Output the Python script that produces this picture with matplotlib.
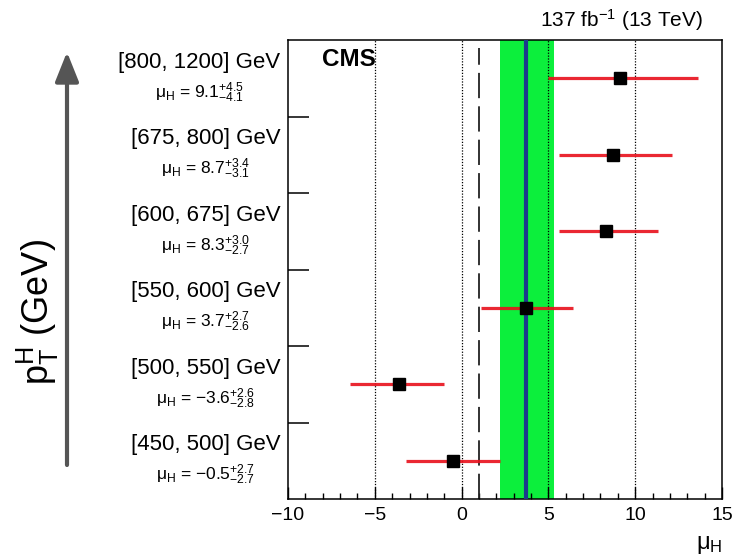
import matplotlib
matplotlib.use("Agg")
import matplotlib.pyplot as plt
from matplotlib.patches import FancyArrowPatch
from matplotlib.ticker import MultipleLocator

plt.rcParams['font.family'] = ['Liberation Sans', 'DejaVu Sans']
plt.rcParams['mathtext.fontset'] = 'custom'
plt.rcParams['mathtext.rm'] = 'Liberation Sans'
plt.rcParams['mathtext.it'] = 'Liberation Sans:italic'
plt.rcParams['mathtext.bf'] = 'Liberation Sans:bold'

# Data (bottom to top)
bins = ["[450, 500] GeV", "[500, 550] GeV", "[550, 600] GeV",
        "[600, 675] GeV", "[675, 800] GeV", "[800, 1200] GeV"]
mu = [-0.5, -3.6, 3.7, 8.3, 8.7, 9.1]
err_up = [2.7, 2.6, 2.7, 3.0, 3.4, 4.5]
err_dn = [2.7, 2.8, 2.6, 2.7, 3.1, 4.1]
mu_comb = 3.7
mu_comb_lo = 2.2
mu_comb_hi = 5.3
mu_sm = 1.0
grid_x = [-5, 0, 5, 10]

W, H = 732, 560
fig = plt.figure(figsize=(W / 100, H / 100), dpi=100)
ax = fig.add_axes([288 / W, 1 - 499 / H, 434 / W, 459 / H])

ax.set_xlim(-10, 15)
ax.set_ylim(0, len(bins))

# combined band and line
ax.axvspan(mu_comb_lo, mu_comb_hi, color='#0cef3c', zorder=1, lw=0)
ax.axvline(mu_comb, color='#1c3a8c', lw=3.0, zorder=3)

# grid dotted
for gx in grid_x:
    ax.axvline(gx, color='black', lw=0.9, ls=(0, (1, 1.3)), zorder=2)

# SM dashed
ax.plot([mu_sm, mu_sm], [0, len(bins) - 0.1], color='#222222', lw=1.3,
        dashes=(14, 4.5), zorder=2)

ys = [i + 0.5 for i in range(len(bins))]
ax.errorbar(mu, ys, xerr=[err_dn, err_up], fmt='none', ecolor='#e8101c',
            elinewidth=2.3, capsize=0, zorder=4, alpha=0.9)
ax.plot(mu, ys, 's', color='black', markersize=8, zorder=5)

# ticks
ax.xaxis.set_major_locator(MultipleLocator(5))
ax.xaxis.set_minor_locator(MultipleLocator(1))
ax.tick_params(axis='x', which='major', direction='in', length=9, width=1,
               labelsize=14, pad=6)
ax.tick_params(axis='x', which='minor', direction='in', length=4.5, width=1)
ax.set_yticks(range(1, len(bins)))
ax.set_yticklabels([])
ax.tick_params(axis='y', which='major', direction='in', length=15, width=1.1)
for s in ax.spines.values():
    s.set_linewidth(1.1)

# labels on the left
fig.canvas.draw()
renderer = fig.canvas.get_renderer()
trans = ax.get_yaxis_transform()
for i, (b, m, u, d) in enumerate(zip(bins, mu, err_up, err_dn)):
    t1 = ax.text(-0.018, ys[i] + 0.21, b, transform=trans, ha='right',
                 va='center', fontsize=16)
    bb = t1.get_window_extent(renderer)
    cx = (bb.x0 + bb.x1) / 2
    cx_ax = ax.transAxes.inverted().transform((cx, 0))[0]
    ms = f"{m:.1f}".replace('-', '\u2212')
    lab = ('\u03bc$_{\\mathrm{H}}$ = ' + ms +
           f'$^{{+{u:.1f}}}_{{-{d:.1f}}}$')
    ax.text(cx_ax, ys[i] - 0.19, lab, transform=trans, ha='center',
            va='center', fontsize=12.5)

ax.text(0.078, 0.957, 'CMS', transform=ax.transAxes, fontsize=17.5,
        fontweight='bold', ha='left', va='center')
fig.text(703 / W, 1 - 20 / H, '137 fb$^{-1}$ (13 TeV)', ha='right',
         va='center', fontsize=15)
fig.text(722 / W, 1 - 545 / H, '\u03bc$_{\\mathrm{H}}$', ha='right',
         va='center', fontsize=17)

# arrow and y label
arr = FancyArrowPatch((67 / W, 1 - 465 / H), (67 / W, 1 - 52 / H),
                      transform=fig.transFigure,
                      arrowstyle='-|>,head_length=0.9,head_width=0.36',
                      mutation_scale=20, lw=3, color='#555555',
                      shrinkA=0, shrinkB=0)
fig.patches.append(arr)
fig.text(38 / W, 1 - 312 / H, r'$\mathrm{p}_{\mathrm{T}}^{\mathrm{H}}$ (GeV)',
         rotation=90, ha='center', va='center', fontsize=26)

fig.savefig('out.png', dpi=100)
